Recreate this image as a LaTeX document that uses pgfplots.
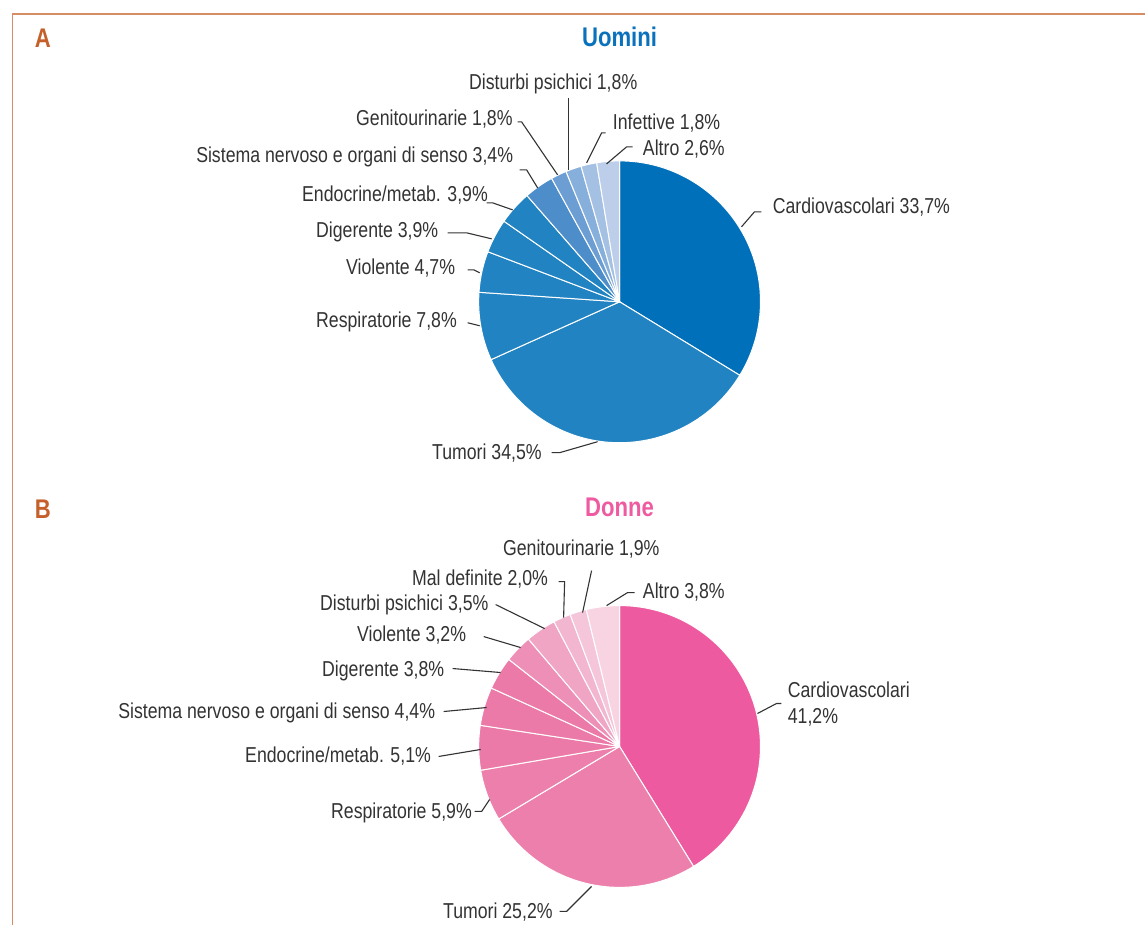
\documentclass[border=0pt]{standalone}
\usepackage{pgfplots}
\pgfplotsset{compat=1.18}
\usepackage{pgfplotstable}
\usepackage{fontspec}
\setmainfont{Liberation Sans}[FakeStretch=0.82]

\definecolor{frame}{HTML}{D68C64}
\definecolor{lettc}{HTML}{C5602B}
\definecolor{blueT}{HTML}{0A72BC}
\definecolor{pinkT}{HTML}{EE5BA0}
\definecolor{txt}{HTML}{333333}
% Uomini slice colours
\definecolor{uom0}{HTML}{0070BA}
\definecolor{uom1}{HTML}{2183C2}
\definecolor{uom2}{HTML}{2183C2}
\definecolor{uom3}{HTML}{2183C2}
\definecolor{uom4}{HTML}{2183C2}
\definecolor{uom5}{HTML}{2183C2}
\definecolor{uom6}{HTML}{4D8ECA}
\definecolor{uom7}{HTML}{6C9ED3}
\definecolor{uom8}{HTML}{87AFDB}
\definecolor{uom9}{HTML}{A4C0E3}
\definecolor{uom10}{HTML}{BCCEE9}
% Donne slice colours
\definecolor{don0}{HTML}{EE5AA0}
\definecolor{don1}{HTML}{EC7FAB}
\definecolor{don2}{HTML}{EC7FAB}
\definecolor{don3}{HTML}{EB7AA8}
\definecolor{don4}{HTML}{EB7AA8}
\definecolor{don5}{HTML}{EB7AA8}
\definecolor{don6}{HTML}{EE8FB8}
\definecolor{don7}{HTML}{F0A5C5}
\definecolor{don8}{HTML}{F2B6D0}
\definecolor{don9}{HTML}{F5C5DA}
\definecolor{don10}{HTML}{F8D4E3}

% Uomini: Cardiovascolari, Tumori, Respiratorie, Violente, Digerente,
% Endocrine/metab., Sistema nervoso, Genitourinarie, Disturbi psichici, Infettive, Altro
\pgfplotstableread{
pct
33.7
34.5
7.8
4.7
3.9
3.9
3.4
1.8
1.8
1.8
2.6
}\uomini
% Donne: Cardiovascolari, Tumori, Respiratorie, Endocrine/metab., Sistema nervoso,
% Digerente, Violente, Disturbi psichici, Mal definite, Genitourinarie, Altro
\pgfplotstableread{
pct
41.2
25.2
5.9
5.1
4.4
3.8
3.2
3.5
2.0
1.9
3.8
}\donne

% #1 table, #2 cx, #3 cy (pixel coords), #4 colour prefix
\newcommand\piechart[4]{%
  \pgfplotstablegetrowsof{#1}%
  \pgfmathtruncatemacro\lastrow{\pgfplotsretval-1}%
  \edef\doloop{\noexpand\pgfplotsforeachungrouped\noexpand\i in {0,...,\lastrow}}%
  \gdef\pietotal{0}%
  \doloop{%
    \pgfplotstablegetelem{\i}{pct}\of{#1}%
    \pgfmathsetmacro\tmpsum{\pietotal+\pgfplotsretval}%
    \xdef\pietotal{\tmpsum}%
  }%
  \gdef\cum{0}%
  \doloop{%
    \pgfplotstablegetelem{\i}{pct}\of{#1}%
    \pgfmathsetmacro\angA{90-360*(\cum/\pietotal)}%
    \pgfmathsetmacro\newcum{\cum+\pgfplotsretval}%
    \pgfmathsetmacro\angB{90-360*(\newcum/\pietotal)}%
    \xdef\cum{\newcum}%
    \edef\temp{\noexpand\fill[fill=#4\i, draw=white, line width=0.5pt, line join=round]
      (axis cs:#2,#3) -- ++(\angA:70.5pt) arc[start angle=\angA, end angle=\angB, radius=70.5pt] -- cycle;}%
    \temp
  }%
}

\begin{document}
\begin{tikzpicture}[
  lab/.style={anchor=west, inner sep=0pt, text=txt, font=\fontsize{10.8}{13}\selectfont},
  leader/.style={draw=txt, line width=0.55pt},
  ttl/.style={inner sep=0pt, font=\fontsize{13.5}{15}\selectfont\bfseries}
]
\begin{axis}[
  width=573pt, height=463pt, scale only axis,
  xmin=0, xmax=1146, ymin=0, ymax=926, y dir=reverse,
  hide axis, clip=false
]
\path (axis cs:0,0) (axis cs:1146,926);
% frame
\draw[frame, line width=0.8pt] (axis cs:12.5,926) -- (axis cs:12.5,14) -- (axis cs:1146,14);

% titles
\node[ttl, text=lettc] at (axis cs:43,38) {A};
\node[ttl, text=blueT] at (axis cs:620,37) {Uomini};
\node[ttl, text=lettc] at (axis cs:43,510) {B};
\node[ttl, text=pinkT] at (axis cs:620,508) {Donne};

% pies
\piechart{\uomini}{620}{302}{uom}
\piechart{\donne}{620}{747}{don}

% Uomini labels
\node[lab] at (axis cs:773,207) {Cardiovascolari 33,7\%};
\draw[leader] (axis cs:762,212) -- (axis cs:755,212) -- (axis cs:742,227);
\node[lab] at (axis cs:432,453) {Tumori 34,5\%};
\draw[leader] (axis cs:552,453) -- (axis cs:560,453) -- (axis cs:598,442);
\node[lab] at (axis cs:316,322) {Respiratorie 7,8\%};
\draw[leader] (axis cs:468,323) -- (axis cs:480,326);
\node[lab] at (axis cs:346,268) {Violente 4,7\%};
\draw[leader] (axis cs:468,270) -- (axis cs:474,270) -- (axis cs:480,273);
\node[lab] at (axis cs:316,232) {Digerente 3,9\%};
\draw[leader] (axis cs:448,233) -- (axis cs:467,233) -- (axis cs:492,239);
\node[lab] at (axis cs:302,195) {Endocrine/metab. 3,9\%};
\draw[leader] (axis cs:487,203) -- (axis cs:493,203) -- (axis cs:513,210);
\node[lab] at (axis cs:196,157) {Sistema nervoso e organi di senso 3,4\%};
\draw[leader] (axis cs:520,170) -- (axis cs:527,170) -- (axis cs:538,188);
\node[lab] at (axis cs:356,119) {Genitourinarie 1,8\%};
\draw[leader] (axis cs:518,122) -- (axis cs:522,122) -- (axis cs:558,175);
\node[lab] at (axis cs:469,84) {Disturbi psichici 1,8\%};
\draw[leader] (axis cs:569,98) -- (axis cs:569,170);
\node[lab] at (axis cs:613,123) {Infettive 1,8\%};
\draw[leader] (axis cs:606,133) -- (axis cs:602,133) -- (axis cs:587,163);
\node[lab] at (axis cs:643,149) {Altro 2,6\%};
\draw[leader] (axis cs:633,147) -- (axis cs:627,147) -- (axis cs:607,164);

% Donne labels
\node[lab, align=left] at (axis cs:788,705) {Cardiovascolari\\41,2\%};
\draw[leader] (axis cs:782,704) -- (axis cs:777,704) -- (axis cs:758,714);
\node[lab] at (axis cs:443,913) {Tumori 25,2\%};
\draw[leader] (axis cs:560,912) -- (axis cs:567,912) -- (axis cs:592,887);
\node[lab] at (axis cs:331,813) {Respiratorie 5,9\%};
\draw[leader] (axis cs:475,812) -- (axis cs:482,812) -- (axis cs:490,800);
\node[lab] at (axis cs:245,757) {Endocrine/metab. 5,1\%};
\draw[leader] (axis cs:439,757) -- (axis cs:481,750);
\node[lab] at (axis cs:118,713) {Sistema nervoso e organi di senso 4,4\%};
\draw[leader] (axis cs:444,712) -- (axis cs:487,708);
\node[lab] at (axis cs:322,671) {Digerente 3,8\%};
\draw[leader] (axis cs:453,669) -- (axis cs:501,673);
\node[lab] at (axis cs:357,635) {Violente 3,2\%};
\draw[leader] (axis cs:484,637) -- (axis cs:521,648);
\node[lab] at (axis cs:320,605) {Disturbi psichici 3,5\%};
\draw[leader] (axis cs:496,605) -- (axis cs:545,629);
\node[lab] at (axis cs:412,579) {Mal definite 2,0\%};
\draw[leader] (axis cs:559,582) -- (axis cs:565,582) -- (axis cs:564,618);
\node[lab] at (axis cs:503,549) {Genitourinarie 1,9\%};
\draw[leader] (axis cs:592,571) -- (axis cs:583,613);
\node[lab] at (axis cs:643,592) {Altro 3,8\%};
\draw[leader] (axis cs:635,593) -- (axis cs:628,593) -- (axis cs:607,606);
\end{axis}
\end{tikzpicture}
\end{document}
